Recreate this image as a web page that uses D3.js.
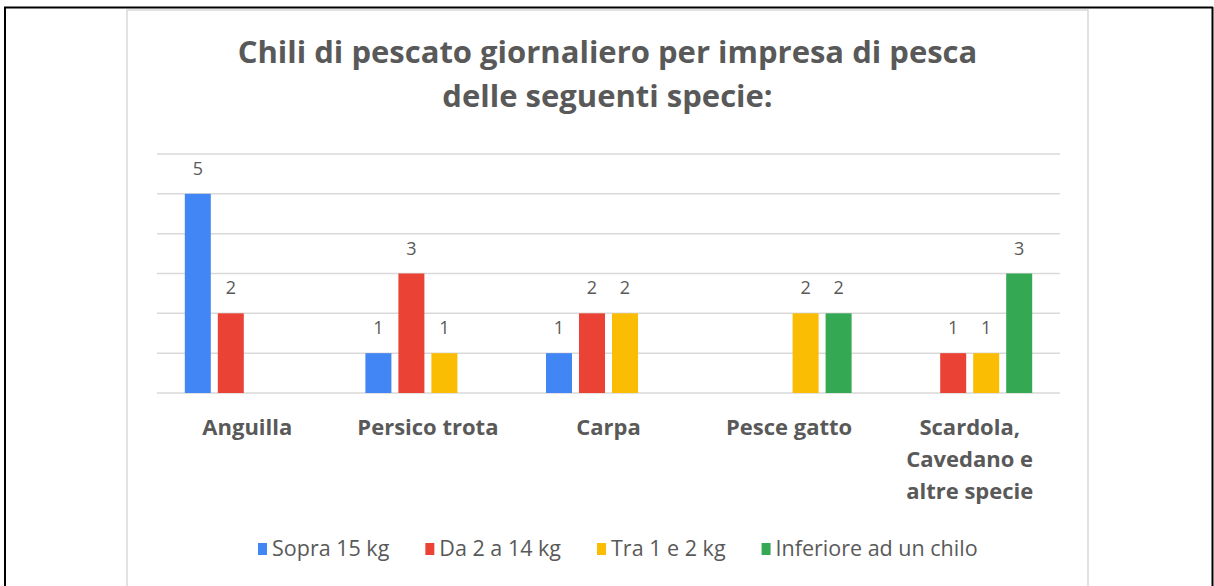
<!DOCTYPE html>
<html>
<head>
<meta charset="utf-8">
<script src="https://cdn.jsdelivr.net/npm/d3@7"></script>
<style>
  body { margin: 0; background: #fff; }
  svg { display: block; }
  text { font-family: "Open Sans", Lato, sans-serif; fill: #595959; }
</style>
</head>
<body>
<svg id="chart" width="1214" height="586"></svg>
<script>

// dati
var titolo = ["Chili di pescato giornaliero per impresa di pesca", "delle seguenti specie:"];
var specie = ["Anguilla", "Persico trota", "Carpa", "Pesce gatto", "Scardola, Cavedano e altre specie"];
var specie_righe = [["Anguilla"], ["Persico trota"], ["Carpa"], ["Pesce gatto"], ["Scardola,", "Cavedano e", "altre specie"]];
var serie = ["Sopra 15 kg", "Da 2 a 14 kg", "Tra 1 e 2 kg", "Inferiore ad un chilo"];
var colori = ["#4285f4", "#ea4335", "#fbbc04", "#34a853"];
var sopra15 = [5, 1, 1, 0, 0];
var da2a14 = [2, 3, 2, 0, 1];
var tra1e2 = [0, 1, 2, 2, 1];
var inferiore = [0, 0, 0, 2, 3];
var yticks = [0, 1, 2, 3, 4, 5, 6];

var valori = [sopra15, da2a14, tra1e2, inferiore];

var svg = d3.select("#chart");

// bordo esterno (tabella)
svg.append("line").attr("x1", 4).attr("x2", 1213).attr("y1", 7.5).attr("y2", 7.5)
  .attr("stroke", "#000").attr("stroke-width", 2);
svg.append("line").attr("x1", 5).attr("x2", 5).attr("y1", 7).attr("y2", 586)
  .attr("stroke", "#000").attr("stroke-width", 2);
svg.append("line").attr("x1", 1212.5).attr("x2", 1212.5).attr("y1", 7).attr("y2", 586)
  .attr("stroke", "#000").attr("stroke-width", 2);

// cornice del grafico
svg.append("rect").attr("x", 127).attr("y", 10).attr("width", 961).attr("height", 600)
  .attr("fill", "#fff").attr("stroke", "#d9d9d9").attr("stroke-width", 1.5);

// titolo
svg.selectAll("text.titolo").data(titolo).enter().append("text")
  .attr("class", "titolo")
  .attr("x", 607.5)
  .attr("y", function (d, i) { return 63 + i * 44; })
  .attr("text-anchor", "middle")
  .attr("font-size", "31px")
  .attr("font-weight", "bold")
  .text(function (d) { return d; });

var x = d3.scaleBand().domain(specie).range([157, 1060]).padding(0);
var xs = d3.scaleBand().domain(serie).range([0, 125]).paddingInner(7 / 33);
var y = d3.scaleLinear().domain([0, 6]).range([393, 154]);

// griglia
svg.append("g").selectAll("line").data(yticks).enter().append("line")
  .attr("x1", 157).attr("x2", 1060)
  .attr("y1", function (d) { return y(d); })
  .attr("y2", function (d) { return y(d); })
  .attr("stroke", "#d9d9d9").attr("stroke-width", 1.5);

// barre
var barre = [];
valori.forEach(function (arr, s) {
  arr.forEach(function (v, c) {
    if (v > 0) barre.push({ s: s, c: c, v: v });
  });
});

function xBar(d) {
  var centro = x(specie[d.c]) + x.bandwidth() / 2;
  return centro - 62.5 + xs(serie[d.s]);
}

svg.append("g").selectAll("rect").data(barre).enter().append("rect")
  .attr("x", xBar)
  .attr("y", function (d) { return y(d.v); })
  .attr("width", xs.bandwidth())
  .attr("height", function (d) { return y(0) - y(d.v); })
  .attr("fill", function (d) { return colori[d.s]; });

svg.append("g").selectAll("text").data(barre).enter().append("text")
  .attr("x", function (d) { return xBar(d) + xs.bandwidth() / 2; })
  .attr("y", function (d) { return y(d.v) - 19; })
  .attr("text-anchor", "middle")
  .attr("font-size", "18px")
  .text(function (d) { return d.v; });

// etichette categorie
var cat = svg.append("g").selectAll("text").data(specie).enter().append("text")
  .attr("text-anchor", "middle")
  .attr("font-size", "22px")
  .attr("font-weight", "bold");
cat.each(function (d, i) {
  var t = d3.select(this);
  specie_righe[i].forEach(function (r, j) {
    t.append("tspan")
      .attr("x", x(d) + x.bandwidth() / 2)
      .attr("y", 435 + j * 32)
      .text(r);
  });
});

// legenda
var leg = svg.append("g");
var lx = 258;
serie.forEach(function (s, i) {
  leg.append("rect").attr("x", lx).attr("y", 543).attr("width", 9).attr("height", 12)
    .attr("fill", colori[i]);
  var t = leg.append("text").attr("x", lx + 14).attr("y", 556)
    .attr("font-size", "21.5px").text(s);
  lx = lx + 14 + t.node().getComputedTextLength() + 36;
});

</script>
</body>
</html>
